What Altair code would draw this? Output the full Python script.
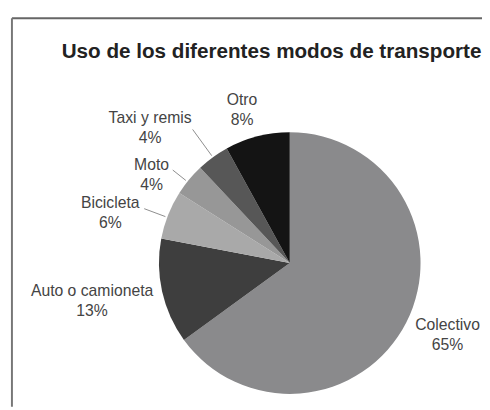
import math
import altair as alt
import pandas as pd

# ---- data ----
categories = ["Colectivo", "Auto o camioneta", "Bicicleta", "Moto", "Taxi y remis", "Otro"]
values = [65, 13, 6, 4, 4, 8]
title_text = "Uso de los diferentes modos de transporte"

# ---- styling / layout ----
colors = ["#8a8a8c", "#3e3e3e", "#a9a9a9", "#979797", "#575757", "#141414"]
W, H = 482, 402
CX, CY, R = 286.5, 256, 133
# label block centre, offset from the pie centre (px)
label_dx = [160.5, -201, -182.5, -140.5, -142, -48.5]
label_dy = [73, 38.5, -51, -89.5, -137.5, -155.5]
LINE = 20
leader_angle_deg = [290.5, 308.5, 324.0]
leader_outer = [158, 152, 168]

df = pd.DataFrame({
    "cat": categories,
    "value": values,
    "ord": list(range(len(values))),
    "pct": [f"{v}%" for v in values],
    "lx": [CX + d for d in label_dx],
    "ly1": [CY + d - LINE / 2 for d in label_dy],
    "ly2": [CY + d + LINE / 2 for d in label_dy],
})

lead = pd.DataFrame({
    "x": [CX + (R + 2) * math.sin(math.radians(a)) for a in leader_angle_deg],
    "y": [CY - (R + 2) * math.cos(math.radians(a)) for a in leader_angle_deg],
    "x2": [CX + r * math.sin(math.radians(a)) for a, r in zip(leader_angle_deg, leader_outer)],
    "y2": [CY - r * math.cos(math.radians(a)) for a, r in zip(leader_angle_deg, leader_outer)],
})

pie = alt.Chart(df).mark_arc(outerRadius=R, stroke=None).encode(
    theta=alt.Theta("value:Q", stack=True),
    order=alt.Order("ord:Q"),
    color=alt.Color("cat:N", scale=alt.Scale(domain=categories, range=colors), legend=None),
    x=alt.value(CX),
    y=alt.value(CY),
)

txt = dict(font="Liberation Sans", fontSize=16, color="#444444", align="center", baseline="middle")
names = alt.Chart(df).mark_text(**txt).encode(
    x=alt.X("lx:Q", scale=None), y=alt.Y("ly1:Q", scale=None), text="cat:N"
)
pcts = alt.Chart(df).mark_text(**txt).encode(
    x=alt.X("lx:Q", scale=None), y=alt.Y("ly2:Q", scale=None), text="pct:N"
)

leaders = alt.Chart(lead).mark_rule(color="#8c8c8c", strokeWidth=1).encode(
    x=alt.X("x:Q", scale=None),
    y=alt.Y("y:Q", scale=None),
    x2="x2:Q",
    y2="y2:Q",
)

title = alt.Chart(pd.DataFrame({"t": [title_text]})).mark_text(
    font="Liberation Sans", fontSize=21, fontWeight="bold", color="#222222",
    align="center", baseline="middle",
).encode(x=alt.value(268), y=alt.value(41), text="t:N")

frame_top = alt.Chart(pd.DataFrame({"a": [0]})).mark_rule(color="#666666", strokeWidth=2).encode(
    x=alt.value(4), x2=alt.value(W), y=alt.value(7)
)
frame_left = alt.Chart(pd.DataFrame({"a": [0]})).mark_rule(color="#777777", strokeWidth=2).encode(
    x=alt.value(4), y=alt.value(7), y2=alt.value(H)
)

chart = alt.layer(frame_top, frame_left, pie, leaders, names, pcts, title).properties(
    width=W, height=H,
    autosize=alt.AutoSizeParams(type="fit", contains="padding"),
    padding=0,
).configure_view(stroke=None)

chart.save("out.html", embed_options={"renderer": "svg", "actions": False})
